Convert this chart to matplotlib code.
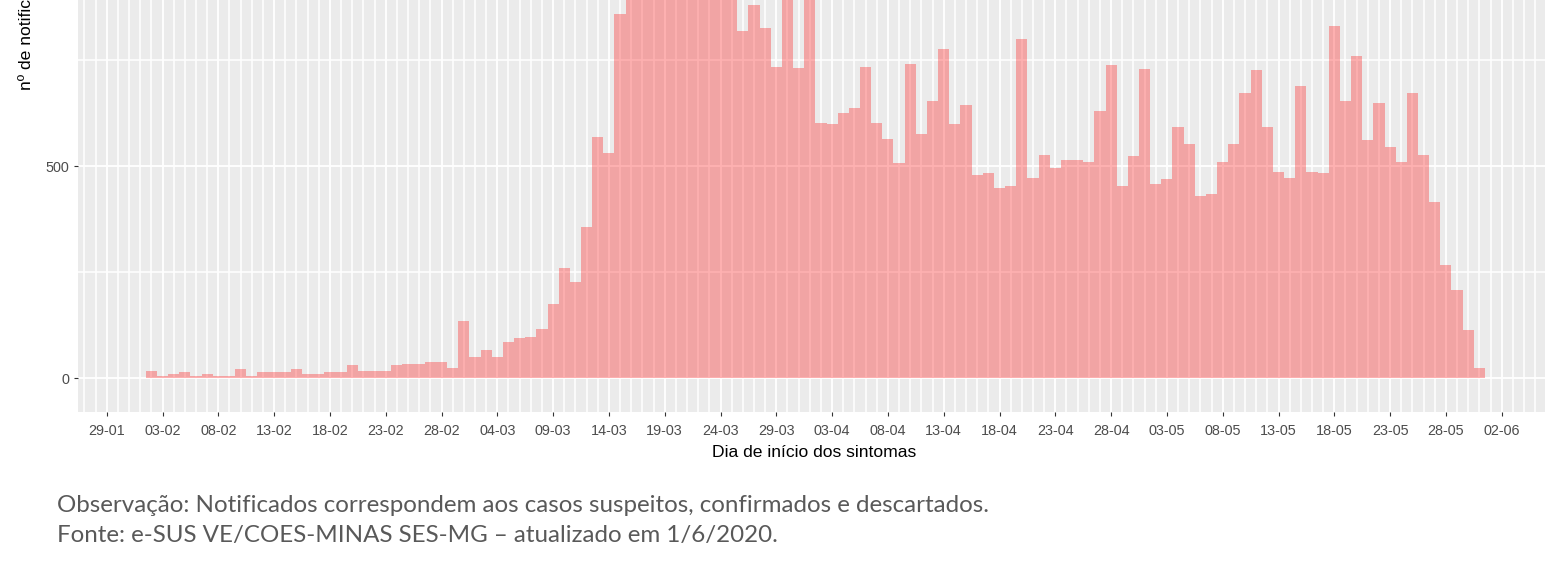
import numpy as np
import pandas as pd
import matplotlib
matplotlib.use("Agg")
import matplotlib.pyplot as plt
import matplotlib.dates as mdates
from matplotlib.ticker import FixedLocator, NullFormatter

# ---------------- data ----------------
dates = pd.date_range("2020-02-02", periods=120, freq="D")
notificacoes = [
    18, 6, 10, 14, 6, 10, 6, 6, 22, 6,
    14, 14, 14, 22, 10, 10, 14, 14, 30, 18,
    18, 18, 30, 34, 34, 38, 38, 25, 136, 51,
    67, 51, 86, 94, 97, 117, 175, 260, 226, 356,
    568, 531, 858, 1000, 1120, 1180, 1260, 1320, 1430, 1575,
    1390, 1240, 1080, 819, 880, 827, 735, 960, 731, 940,
    603, 600, 626, 638, 734, 603, 564, 507, 742, 576,
    653, 777, 600, 645, 480, 483, 449, 454, 800, 472,
    526, 495, 514, 514, 511, 630, 738, 453, 523, 730,
    457, 469, 592, 553, 430, 434, 511, 553, 672, 726,
    592, 487, 472, 688, 487, 483, 831, 653, 761, 561,
    649, 546, 511, 672, 526, 415, 267, 207, 113, 25,
]
tick_dates = pd.date_range("2020-01-29", "2020-06-02", freq="5D")
tick_labels = [d.strftime("%d-%m") for d in tick_dates]
y_ticks = [0, 500]
y_tick_labels = ["0", "500"]
y_minor = [250, 750]
x_title = "Dia de início dos sintomas"
y_title = "nº de notificações"
note_lines = [
    "Observação: Notificados correspondem aos casos suspeitos, confirmados e descartados.",
    "Fonte: e-SUS VE/COES-MINAS SES-MG – atualizado em 1/6/2020.",
]

# ---------------- layout (pixels) ----------------
W, H = 1545, 577
fig = plt.figure(figsize=(W / 100, H / 100), dpi=100)
fig.patch.set_facecolor("white")

px_left, px_right = 78, 1550
px_bottom = 411.7
px_per_day = 11.16
px_per_unit = 0.424
x0_px = 106.7  # position of first tick (29-01)
x0 = mdates.date2num(tick_dates[0])
xlim = (x0 - (x0_px - px_left) / px_per_day, x0 + (px_right - x0_px) / px_per_day)

vals = np.array(notificacoes, dtype=float)
ylim = (-79, vals.max() * 1.05)
ax_h_px = (ylim[1] - ylim[0]) * px_per_unit
ax = fig.add_axes([px_left / W, (H - px_bottom) / H, (px_right - px_left) / W, ax_h_px / H])
ax.set_xlim(*xlim)
ax.set_ylim(*ylim)
ax.set_facecolor("#EBEBEB")
for s in ax.spines.values():
    s.set_visible(False)

ax.bar(mdates.date2num(dates), vals, width=1.0, color="red", alpha=0.3,
       linewidth=0, antialiased=False, zorder=2)

# grid
ax.set_axisbelow(True)
ax.xaxis.set_major_locator(FixedLocator(mdates.date2num(tick_dates)))
ax.set_xticklabels(tick_labels)
ax.xaxis.set_minor_locator(mdates.DayLocator())
ax.xaxis.set_minor_formatter(NullFormatter())
ax.yaxis.set_major_locator(FixedLocator(y_ticks))
ax.set_yticklabels(y_tick_labels)
ax.yaxis.set_minor_locator(FixedLocator(y_minor))
ax.grid(which="major", color="white", linewidth=1.3, zorder=0)
ax.grid(which="minor", color="white", linewidth=1.1, zorder=0)

tick_font = ["Liberation Sans", "DejaVu Sans"]
ax.tick_params(axis="x", which="major", length=2.9, width=0.8, color="#333333",
               labelcolor="#4D4D4D", labelsize=10.4, pad=6.0)
ax.tick_params(axis="y", which="major", length=2.9, width=0.8, color="#333333",
               labelcolor="#4D4D4D", labelsize=10.4, pad=3.1)
ax.tick_params(which="minor", length=0)
for lab in ax.get_xticklabels() + ax.get_yticklabels():
    lab.set_family(tick_font)

ax.set_xlabel(x_title, fontsize=12.6, family=tick_font, color="black", labelpad=4.9)

# y title (its upper part falls outside the figure, as in the reference)
fig.text(26 / W, 1 - 90 / H, y_title, rotation=90, ha="center", va="bottom",
         fontsize=12.6, family=tick_font, color="black")

# notes
renderer = fig.canvas.get_renderer()
note_font = ["Lato", "DejaVu Sans"]
t1 = fig.text(57 / W, 1 - 512 / H, note_lines[0], ha="left", va="baseline",
              fontsize=18, family=note_font, color="#595959")
t2 = fig.text(57 / W, 1 - 542 / H, note_lines[1], ha="left", va="baseline",
              fontsize=18, family=note_font, color="#595959")
w1 = t1.get_window_extent(renderer).width
w2 = t2.get_window_extent(renderer).width
fs = 18 * (951 + 703) / (w1 + w2)
t1.set_fontsize(fs)
t2.set_fontsize(fs)

fig.savefig("out.png", dpi=100, facecolor="white")
